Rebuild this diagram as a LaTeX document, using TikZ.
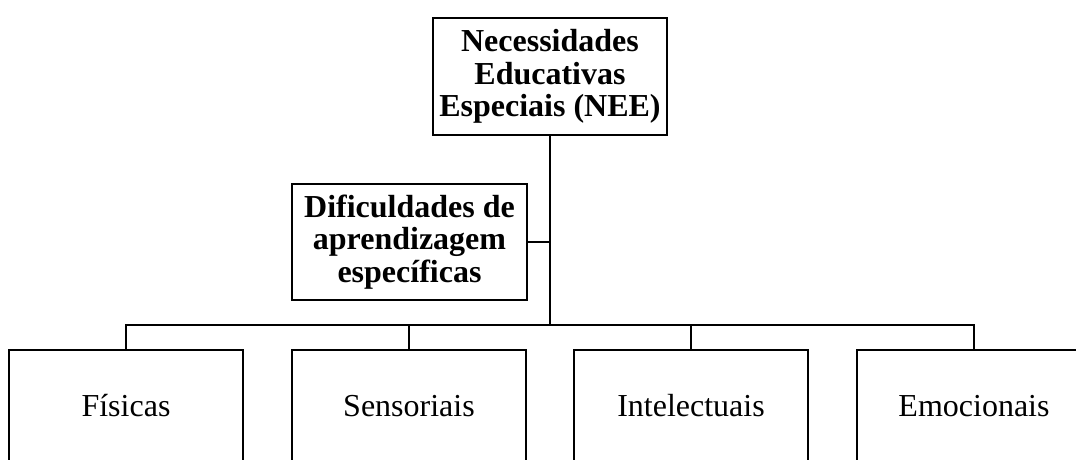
\documentclass[tikz,border=0pt]{standalone}
\usepackage{fontspec}
\setmainfont{Liberation Serif}
\begin{document}
\begin{tikzpicture}[x=1pt,y=1pt,line width=2.5pt,
  box/.style={draw,line width=2.5pt,minimum width=234pt,minimum height=117pt,inner sep=0pt,align=center},
  headbox/.style={box,font=\fontsize{32}{32.5}\selectfont\bfseries},
  catbox/.style={box,font=\fontsize{32}{33}\selectfont,text height=23pt,text depth=7pt}]
\clip (0,0) rectangle (1076,460);
\useasboundingbox (0,0) rectangle (1076,460);
\node[headbox] (nee) at (550,383.5) {Necessidades\\Educativas\\Especiais (NEE)};
\node[headbox,minimum width=235pt,minimum height=116pt] (dae) at (409.5,218) {Dificuldades de\\aprendizagem\\específicas};
\node[catbox] (fis) at (126,51.5) {Físicas};
\node[catbox] (sen) at (409,51.5) {Sensoriais};
\node[catbox] (int) at (691,51.5) {Intelectuais};
\node[catbox] (emo) at (974,51.5) {Emocionais};
\coordinate (bus) at (550,135);
\coordinate (side) at (550,218);
\draw (nee.south) -- (bus);
\draw (dae.east) -- (side);
\draw (fis.north) |- (bus) -| (emo.north);
\draw (sen.north) -- (sen.north |- bus);
\draw (int.north) -- (int.north |- bus);
\end{tikzpicture}
\end{document}
